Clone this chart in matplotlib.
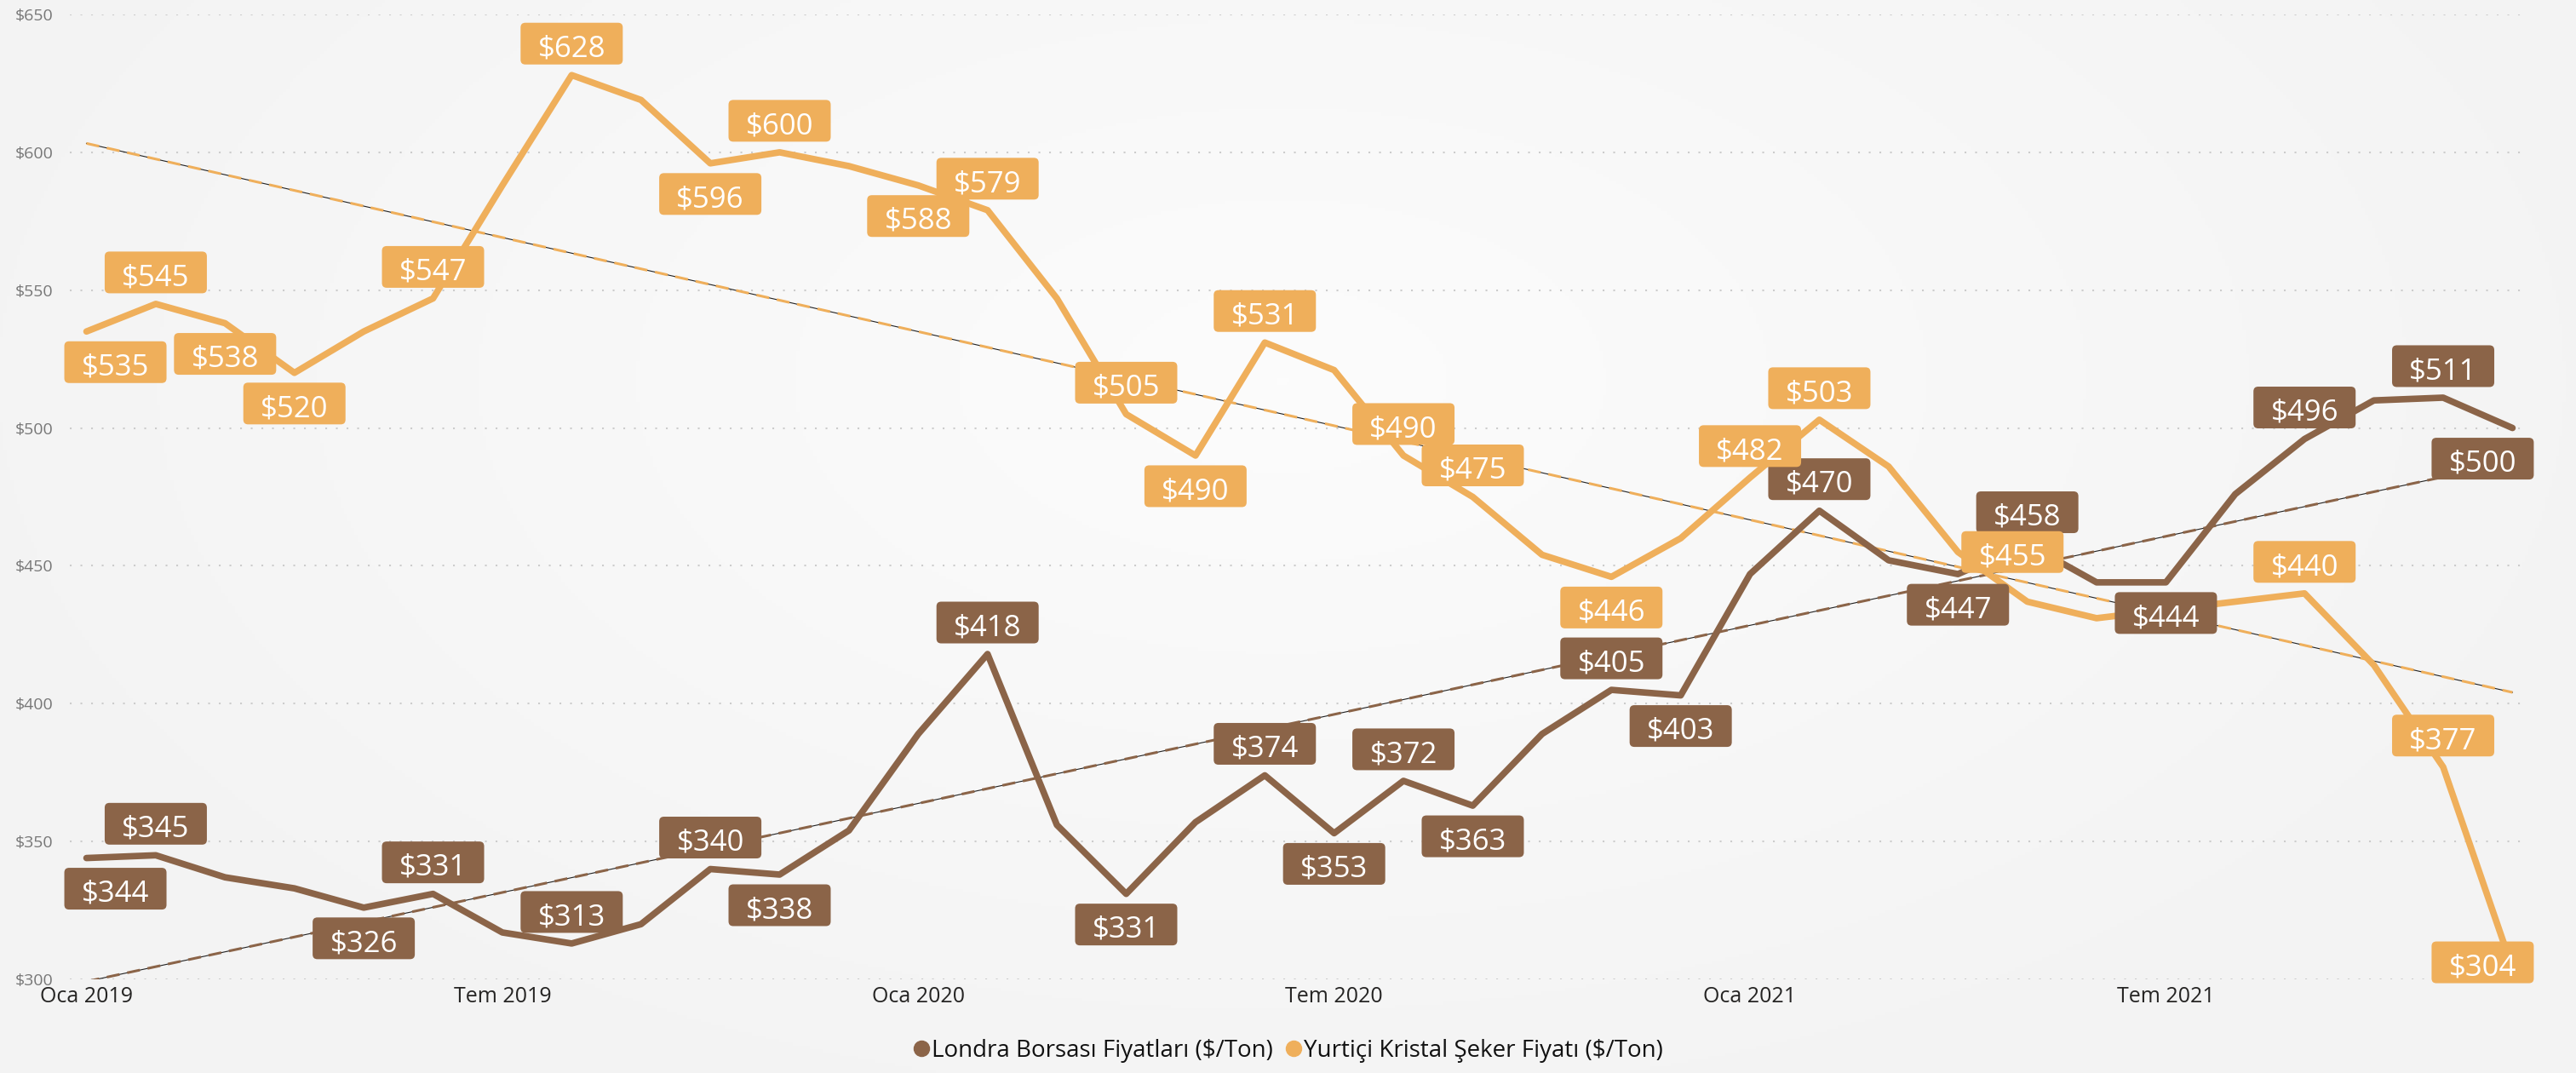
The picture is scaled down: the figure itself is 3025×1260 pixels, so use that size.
import numpy as np
import matplotlib
matplotlib.use("Agg")
import matplotlib.pyplot as plt
from matplotlib.patches import FancyBboxPatch
from matplotlib.offsetbox import DrawingArea, AnnotationBbox
from matplotlib.text import Text
from matplotlib.lines import Line2D
from matplotlib.colors import LinearSegmentedColormap

plt.rcParams['font.family'] = ['Open Sans', 'DejaVu Sans']

# monthly data, Oca 2019 - Ara 2021
month_names = ["Oca", "Şub", "Mar", "Nis", "May", "Haz", "Tem", "Ağu", "Eyl", "Eki", "Kas", "Ara"]
years = [2019, 2020, 2021]
months = [f"{m} {y}" for y in years for m in month_names]

londra = [344, 345, 337, 333, 326, 331, 317, 313, 320, 340, 338, 354,
          389, 418, 356, 331, 357, 374, 353, 372, 363, 389, 405, 403,
          447, 470, 452, 447, 458, 444, 444, 476, 496, 510, 511, 500]
yurtici = [535, 545, 538, 520, 535, 547, 588, 628, 619, 596, 600, 595,
           588, 579, 547, 505, 490, 531, 521, 490, 475, 454, 446, 460,
           482, 503, 486, 455, 437, 431, 434, 437, 440, 414, 377, 304]

series_names = ["Londra Borsası Fiyatları ($/Ton)", "Yurtiçi Kristal Şeker Fiyatı ($/Ton)"]
tick_months = [0, 6, 12, 18, 24, 30]
y_ticks = [300, 350, 400, 450, 500, 550, 600, 650]

BROWN = '#8B6448'
ORANGE = '#EFAF5B'

# which points get a data label: A above, B below, or (dx, dy) in px
A = (0, 37)
B = (0, -36)
londra_lbl = {0: (34, -36), 1: A, 4: B, 5: A, 7: A, 9: A, 10: B, 13: A, 15: B, 17: A,
              18: B, 19: A, 20: B, 22: A, 23: B, 25: A, 27: B, 28: A, 30: B, 32: A,
              34: A, 35: (-35, -36)}
yurtici_lbl = {0: (34, -36), 1: A, 2: B, 3: B, 5: A, 7: A, 9: B, 10: A, 12: B, 13: A,
               15: A, 16: B, 17: A, 19: A, 20: A, 22: B, 24: A, 25: A, 27: (64, 0),
               32: A, 34: A, 35: (-35, 7)}

fig = plt.figure(figsize=(30.25, 12.6), dpi=100)
fig.patch.set_facecolor('#F5F5F5')

# soft light background
bg = fig.add_axes([0, 0, 1, 1], zorder=-10)
yy, xx = np.mgrid[0:1260:4, 0:3025:4]
r = np.clip(np.hypot((xx - 1505) / 1700.0, (yy - 445) / 950.0), 0, 1)
bg.imshow(r, cmap=LinearSegmentedColormap.from_list('bg', ['#FCFCFC', '#F3F3F3']),
          extent=[0, 1, 0, 1], aspect='auto')
bg.axis('off')

ax = fig.add_axes([82 / 3025, 1 - 1150 / 1260, (2961 - 82) / 3025, (1150 - 17) / 1260])
ax.set_facecolor('none')
x = np.arange(len(months))

# trend lines
for vals, col in [(londra, BROWN), (yurtici, ORANGE)]:
    k, b = np.polyfit(x, vals, 1)
    t = k * x + b
    ax.plot(x[[0, -1]], t[[0, -1]], color='#222222', lw=0.8, zorder=2)
    ax.plot(x[[0, -1]], t[[0, -1]], color=col, lw=2.2, ls=(0, (5, 3)), zorder=2.1)

ax.plot(x, londra, color=BROWN, lw=5.5, solid_joinstyle='round', solid_capstyle='round', zorder=3)
ax.plot(x, yurtici, color=ORANGE, lw=5.5, solid_joinstyle='round', solid_capstyle='round', zorder=4)

BW, BH = 120 * 0.72, 49 * 0.72


def add_label(xi, val, color, dx, dy):
    da = DrawingArea(BW, BH, 0, 0)
    da.add_artist(FancyBboxPatch((0, 0), BW, BH, boxstyle='round,pad=0,rounding_size=4',
                                 fc=color, ec='none'))
    da.add_artist(Text(BW / 2, BH / 2 - 11, f'${val}', color='white', fontsize=25,
                       ha='center', va='baseline'))
    ab = AnnotationBbox(da, (xi, val), xybox=(dx * 0.72, dy * 0.72), xycoords='data',
                        boxcoords='offset points', frameon=False, pad=0,
                        box_alignment=(0.5, 0.5), annotation_clip=False, zorder=6)
    ax.add_artist(ab)


for i, pos in londra_lbl.items():
    add_label(i, londra[i], BROWN, *pos)
for i, pos in yurtici_lbl.items():
    add_label(i, yurtici[i], ORANGE, *pos)

ax.set_xlim(-0.24, 35.13)
ax.set_ylim(300, 650)
ax.set_yticks(y_ticks)
ax.set_yticklabels([f'${v}' for v in y_ticks])
ax.set_xticks(tick_months)
ax.set_xticklabels([months[i] for i in tick_months])
ax.tick_params(axis='y', length=0, pad=14, labelsize=14, labelcolor='#777777')
ax.tick_params(axis='x', length=0, pad=6, labelsize=18, labelcolor='#252423')
ax.yaxis.grid(True, color='#CCCCCC', lw=1.5, ls=(0, (1, 5)))
ax.set_axisbelow(True)
for s in ax.spines.values():
    s.set_visible(False)

handles = [Line2D([], [], marker='o', ls='', ms=13, color=c) for c in (BROWN, ORANGE)]
fig.legend(handles, series_names, loc='center', bbox_to_anchor=(0.5, 0.021), ncol=2,
           frameon=False, fontsize=20, handletextpad=0.1, columnspacing=0.5,
           handlelength=0.7, labelcolor='#111111')

fig.savefig('out.png', dpi=100, facecolor=fig.get_facecolor())
